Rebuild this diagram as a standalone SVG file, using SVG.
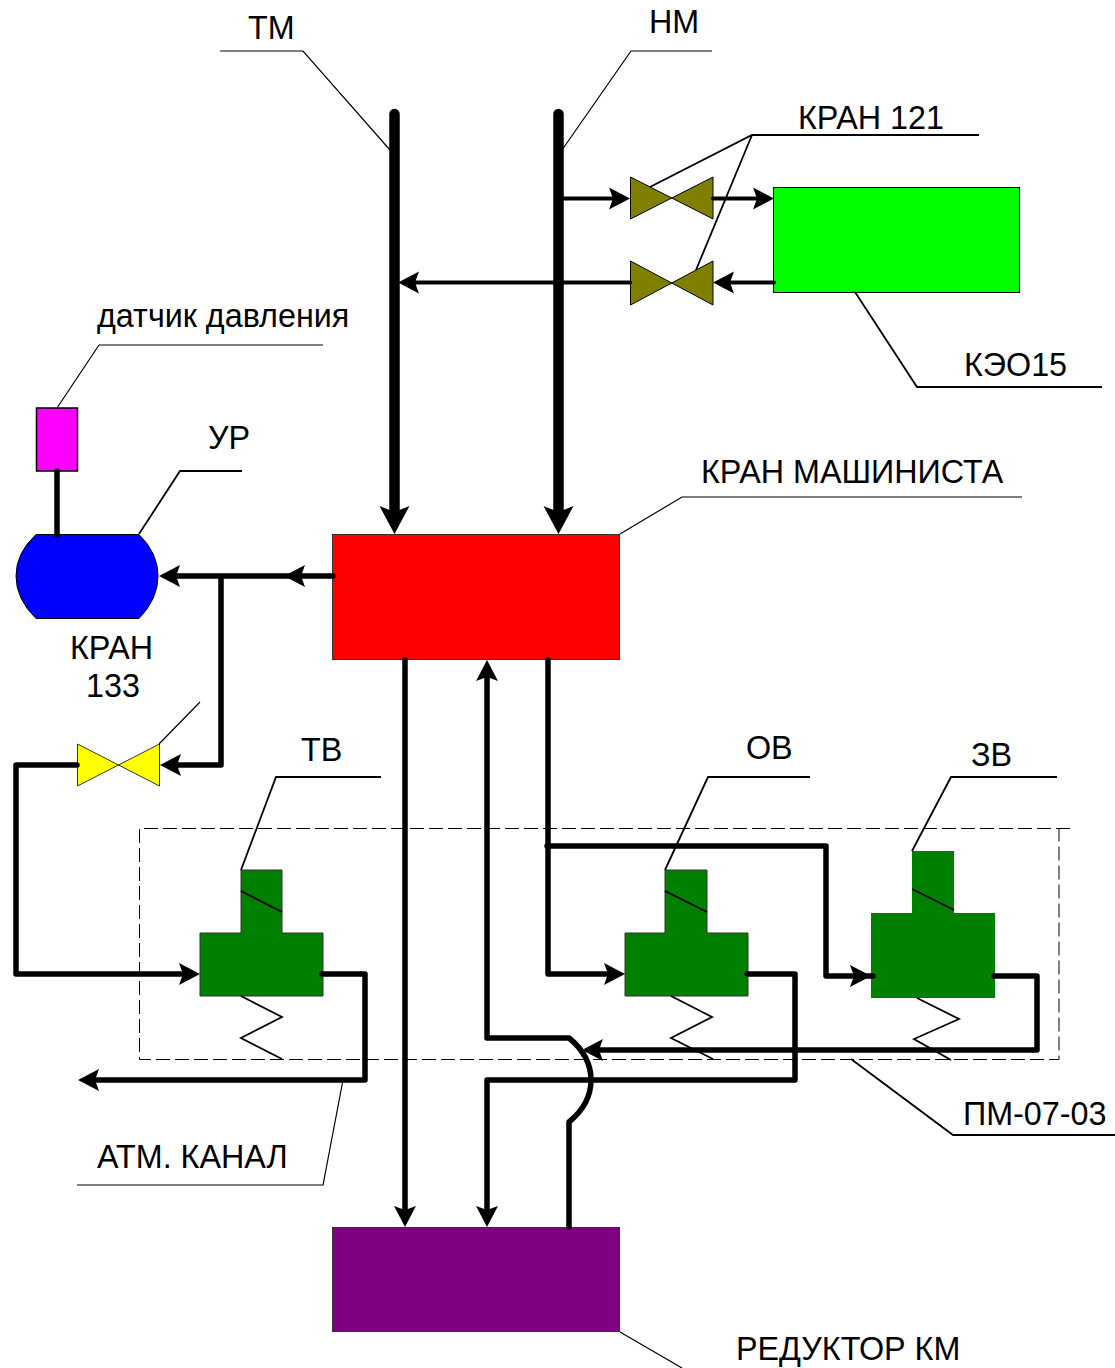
<svg xmlns="http://www.w3.org/2000/svg" width="1115" height="1368" viewBox="0 0 1115 1368">
<style>
text{font-family:"Liberation Sans",Arial,sans-serif;font-size:32.3px;fill:#000}
.lead{fill:none;stroke:#000;stroke-width:1.2}
.lead2{fill:none;stroke:#000;stroke-width:1.8}
.w{fill:none;stroke:#000;stroke-width:5.500;stroke-linecap:round;stroke-linejoin:round}
.t{fill:none;stroke:#000;stroke-width:4;stroke-linecap:round;stroke-linejoin:round}
.h{fill:none;stroke:#000;stroke-width:10.500;stroke-linecap:round}
.g{fill:#008000;stroke:#333;stroke-width:1}
.v{fill:#808000;stroke:#000;stroke-width:1}
</style>
<defs>
<path id="a" d="M0 0L-21-11L-17 0L-21 11Z" fill="#000"/>
<path id="b" d="M0 0L-28-15L-22 0L-28 15Z" fill="#000"/>
</defs>
<g id="frame"><path d="M1070 828.500H139.500V1059.500H1059V828" fill="none" stroke="#000" stroke-width="1" stroke-dasharray="14 5"/></g>
<g id="node-red"><rect x="332.500" y="534.500" width="287" height="125" fill="#f00" stroke="#333" stroke-width="1"/></g>
<g id="node-purple"><rect x="332.500" y="1227.500" width="287" height="104" fill="#800080" stroke="#333" stroke-width="1"/></g>
<g id="node-green"><rect x="773.500" y="187.500" width="246" height="105" fill="#0f0" stroke="#000" stroke-width="1"/></g>
<g id="node-sensor"><rect x="36.500" y="408" width="41" height="63" fill="#f0f" stroke="#000" stroke-width="1.500"/></g>
<g id="node-tank"><path d="M36 534.500H139Q158 553 158 576Q158 599 139 618.500H36Q16 599 16 576Q16 553 36 534.500Z" fill="#00f" stroke="#000" stroke-width="1"/></g>
<g id="valve-1"><path class="v" d="M630.500 177L713 219V177L630.500 219Z"/></g>
<g id="valve-2"><path class="v" d="M630.500 261L713 305V261L630.500 305Z"/></g>
<g id="valve-133"><path d="M77.500 744L159.500 786V744L77.500 786Z" fill="#ff0" stroke="#333" stroke-width="1"/></g>
<g id="node-tv">
<path class="g" d="M241 870H282V933H323V996H200V933H241Z"/>
<path class="lead2" d="M241 891L282 912M241 996L282 1017L241 1038L282 1059"/>
</g>
<g id="node-ov">
<path class="g" d="M665 870H707V933H748V996H625V933H665Z"/>
<path class="lead2" d="M665 891L707 912M671 996L712 1017L671 1038L713 1059"/>
</g>
<g id="node-zv">
<path d="M912 851H954V913H995V998H871V913H912Z" fill="#008000"/>
<path class="lead2" d="M912 889L954 910M917 998L959 1019L914 1039L951 1060"/>
</g>
<g id="connectors">
<path class="h" d="M394.500 114V510M558.500 114V510"/>
<use href="#b" transform="translate(394.500 534) rotate(90)"/>
<use href="#b" transform="translate(558.500 534) rotate(90)"/>
<path class="t" d="M562 198.500H612M713 198.500H756M774 282.500H730M630 282.500H412"/>
<use href="#a" transform="translate(630 198.500)"/>
<use href="#a" transform="translate(774 198.500)"/>
<use href="#a" transform="translate(713 282.500) rotate(180)"/>
<use href="#a" transform="translate(398 282.500) rotate(180)"/>
<path class="w" d="M57 471V535M333 576H176M221 576V765H176M77 765H16V974H184"/>
<use href="#a" transform="translate(159 576) rotate(180)"/>
<use href="#a" transform="translate(284 576) rotate(180)"/>
<use href="#a" transform="translate(160 765) rotate(180)"/>
<use href="#a" transform="translate(200 974)"/>
<path class="w" d="M322 974H365V1080H94"/>
<use href="#a" transform="translate(78 1080) rotate(180)"/>
<path class="w" d="M405 660V1210"/>
<use href="#a" transform="translate(405 1227) rotate(90)"/>
<path class="w" d="M487 677V1038H569Q591 1056 591 1080Q591 1104 569 1122V1227"/>
<use href="#a" transform="translate(487 660) rotate(-90)"/>
<path class="w" d="M747 974H795V1080H487V1210"/>
<use href="#a" transform="translate(487 1227) rotate(90)"/>
<path class="w" d="M548 660V974H608"/>
<use href="#a" transform="translate(625 974)"/>
<path class="w" d="M547 846H826V976H873"/>
<use href="#a" transform="translate(871 976)"/>
<path class="w" d="M994 976H1037V1050H598"/>
<use href="#a" transform="translate(582 1050) rotate(180)"/>
</g>
<g id="leaders">
<path class="lead" d="M220 51H303L390 150M712 51H631L562 150M159 744L200 702M343 1080L323 1185H77M620 1332L682 1368M620 534L682 497H1022M57 408L99 345H323"/>
<path class="lead2" d="M979 135H752L650 187M752 135L696 270M1102 387H917L855 292M242 471H180L139 534M381 777H276L241 870M810 777H708L665 870M1057 777H951L912 851M1115 1135H953L851 1059"/>
</g>
<g id="labels">
<text x="248" y="39">ТМ</text>
<text x="649" y="33">НМ</text>
<text x="798" y="129">КРАН 121</text>
<text x="964" y="376">КЭО15</text>
<text x="97" y="327">датчик давления</text>
<text x="208" y="449">УР</text>
<text x="701" y="483">КРАН МАШИНИСТА</text>
<text x="70" y="659">КРАН</text>
<text x="86" y="697">133</text>
<text x="301" y="761">ТВ</text>
<text x="746" y="759">ОВ</text>
<text x="971" y="766">ЗВ</text>
<text x="963" y="1125">ПМ-07-03</text>
<text x="97" y="1168">АТМ. КАНАЛ</text>
<text x="736" y="1360">РЕДУКТОР КМ</text>
</g>
</svg>
